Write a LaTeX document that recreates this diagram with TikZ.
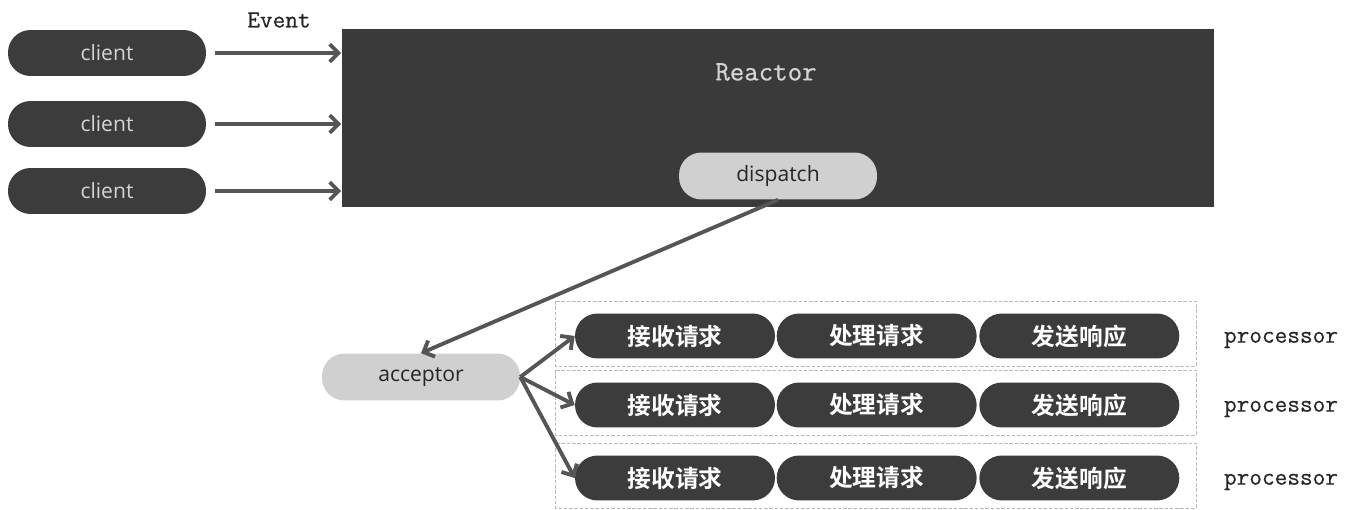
\documentclass[tikz,border=0pt]{standalone}
\usepackage{fontspec}
\setsansfont{Open Sans}
\setmonofont{Latin Modern Mono}[FakeBold=0.5]
\newfontfamily\cjkfont{Noto Sans CJK SC}[BoldFont={Noto Sans CJK SC Bold}]
\usetikzlibrary{arrows.meta,positioning}

\definecolor{pilldark}{HTML}{3C3C3C}
\definecolor{reactorfill}{HTML}{3A3A3A}
\definecolor{pilllight}{HTML}{D0D0D0}
\definecolor{arrowgray}{HTML}{555555}
\definecolor{lightfg}{HTML}{D4D4D4}

\tikzset{
  darkpill/.style={rectangle, rounded corners=0.45cm, fill=pilldark,
    minimum width=3.96cm, minimum height=0.92cm, inner sep=0pt,
    text=lightfg, font=\sffamily\fontsize{12}{14}\selectfont},
  lightpill/.style={darkpill, fill=pilllight, text=black!85,
    minimum height=0.94cm},
  cnpill/.style={darkpill, minimum width=4cm, minimum height=0.9cm,
    text=white, font=\cjkfont\bfseries\fontsize{13.5}{15}\selectfont},
  reactorbox/.style={rectangle, fill=reactorfill, minimum width=17.46cm,
    minimum height=3.58cm, inner sep=0pt},
  mono/.style={font=\ttfamily\fontsize{14}{16}\selectfont, text=black!85},
  flow/.style={draw=arrowgray, line width=2.2pt,
    -{Straight Barb[length=5pt,width=10pt]}},
  rowbox/.style={draw=gray!55, line width=0.5pt, dash pattern=on 2pt off 1pt}
}

\begin{document}
\begin{tikzpicture}[x=0.02cm, y=-0.02cm]
  \useasboundingbox (0,0) rectangle (1346,510);
  \node[reactorbox] (reactor) at (778,118) {};
  \node[mono, text=lightfg, font=\ttfamily\fontsize{16}{18}\selectfont] (reactorlbl) at (766,72) {Reactor};
  \foreach \i/\y in {1/53,2/124,3/191}{
    \node[darkpill] (c\i) at (107,\y) {client};
    \draw[flow, shorten <=0.18cm] (c\i.east) -- (c\i.east -| reactor.west);
  }
  \node[mono] (event) at (279,20) {Event};

  \node[lightpill] (dispatch) at (778,176) {dispatch};
  \node[lightpill] (acceptor) at (421,377) {acceptor};
  \draw[flow] (dispatch.south) -- (acceptor.north);

  % three processor rows
  \foreach \r/\y in {1/336,2/405,3/478}{
    \draw[rowbox] (555,\y-35) rectangle (1196,\y+30);
    \node[cnpill] (recv\r) at (675,\y) {接收请求};
    \node[cnpill, right=0.02cm of recv\r] (proc\r) {处理请求};
    \node[cnpill, right=0.04cm of proc\r] (send\r) {发送响应};
    \node[mono] (proclbl\r) at (1281,\y+4) {processor};
    \draw[flow] (acceptor.east) -- (recv\r.west);
  }
\end{tikzpicture}
\end{document}
